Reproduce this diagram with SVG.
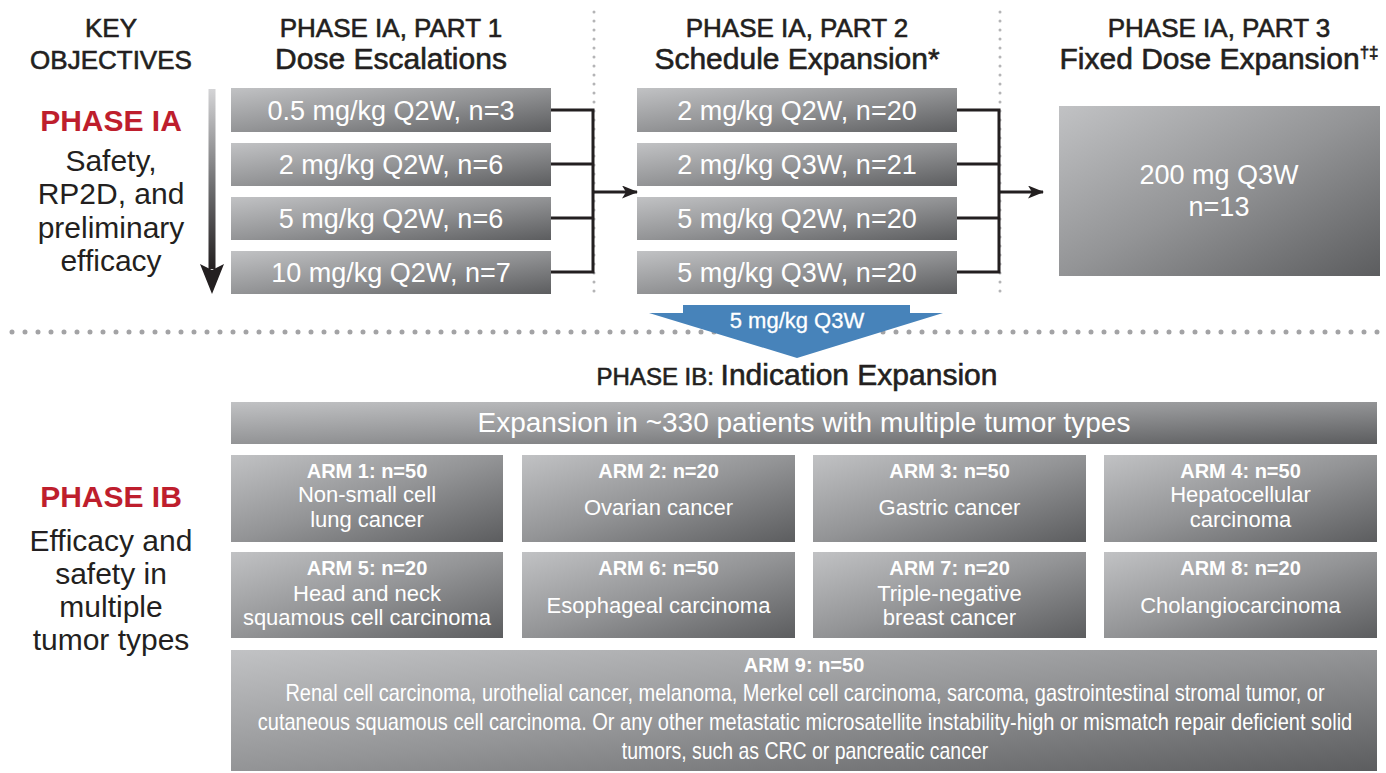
<svg xmlns="http://www.w3.org/2000/svg" width="1386" height="773" viewBox="0 0 1386 773">
<defs>
<linearGradient id="gbox" x1="0" y1="0" x2="1" y2="1">
<stop offset="0" stop-color="#c1c2c4"/>
<stop offset="0.5" stop-color="#939496"/>
<stop offset="1" stop-color="#5c5d5f"/>
</linearGradient>
<linearGradient id="gdown" x1="0" y1="0" x2="0" y2="1">
<stop offset="0" stop-color="#d4d4d6"/>
<stop offset="0.55" stop-color="#6d6d6f"/>
<stop offset="1" stop-color="#231f20"/>
</linearGradient>
<marker id="ah" viewBox="0 0 16 13" refX="15" refY="6.5" markerWidth="16" markerHeight="13" markerUnits="userSpaceOnUse" orient="auto">
<path d="M0,0 L16,6.5 L0,13 L4,6.5 Z" fill="#231f20"/>
</marker>
<style>
text{font-family:"Liberation Sans",Arial,sans-serif;}
.hd1{font-size:26px;fill:#231f20;text-anchor:middle;stroke:#231f20;stroke-width:0.6px;}
.hd2{font-size:30px;fill:#231f20;text-anchor:middle;stroke:#231f20;stroke-width:0.6px;}
.red{font-size:30px;font-weight:bold;fill:#be1e2d;text-anchor:middle;}
.side{font-size:30px;fill:#231f20;text-anchor:middle;}
.box{fill:url(#gbox);}
.bt{font-size:27px;fill:#ffffff;text-anchor:middle;}
.arm{font-size:20px;font-weight:bold;fill:#ffffff;text-anchor:middle;}
.ad{font-size:22px;fill:#ffffff;text-anchor:middle;}
.cond{font-size:24px;fill:#ffffff;text-anchor:middle;}
.conn{fill:none;stroke:#231f20;stroke-width:3;}
.vdot{fill:none;stroke:#b4b4b6;stroke-width:3;stroke-linecap:round;stroke-dasharray:0 9;}
.hdot{fill:none;stroke:#a3a3a5;stroke-width:5;stroke-linecap:round;stroke-dasharray:0 13;}
</style>
</defs>
<rect width="1386" height="773" fill="#ffffff"/>

<g id="separators">
<line class="vdot" x1="594" y1="12" x2="594" y2="298"/>
<line class="vdot" x1="1000" y1="12" x2="1000" y2="298"/>
<line class="hdot" x1="12" y1="332" x2="1380" y2="332"/>
</g>

<g id="headers">
<text class="hd1" x="111" y="37">KEY</text>
<text class="hd1" x="111" y="69">OBJECTIVES</text>
<text class="hd1" x="391" y="37">PHASE IA, PART 1</text>
<text class="hd2" x="391" y="69">Dose Escalations</text>
<text class="hd1" x="797" y="37">PHASE IA, PART 2</text>
<text class="hd2" x="797" y="69">Schedule Expansion*</text>
<text class="hd1" x="1219" y="37">PHASE IA, PART 3</text>
<text class="hd2" x="1219" y="69">Fixed Dose Expansion<tspan font-size="17" dy="-11">†‡</tspan></text>
</g>

<g id="phase-ia-objectives">
<text class="red" x="111" y="131">PHASE IA</text>
<text class="side" x="111" y="171">Safety,</text>
<text class="side" x="111" y="204">RP2D, and</text>
<text class="side" x="111" y="238">preliminary</text>
<text class="side" x="111" y="271">efficacy</text>
<rect x="208.5" y="89" width="7" height="180" fill="url(#gdown)"/>
<path d="M200,264 L212,270 L224,264 L212,294 Z" fill="#231f20"/>
</g>

<g id="part1-0-5">
<rect class="box" x="231" y="88" width="320" height="44"/>
<text class="bt" x="391" y="120">0.5 mg/kg Q2W, n=3</text>
</g>
<g id="part1-2">
<rect class="box" x="231" y="143" width="320" height="43"/>
<text class="bt" x="391" y="174">2 mg/kg Q2W, n=6</text>
</g>
<g id="part1-5">
<rect class="box" x="231" y="197" width="320" height="43"/>
<text class="bt" x="391" y="228">5 mg/kg Q2W, n=6</text>
</g>
<g id="part1-10">
<rect class="box" x="231" y="251" width="320" height="43"/>
<text class="bt" x="391" y="282">10 mg/kg Q2W, n=7</text>
</g>

<g id="part2-2-q2w">
<rect class="box" x="637" y="88" width="320" height="44"/>
<text class="bt" x="797" y="120">2 mg/kg Q2W, n=20</text>
</g>
<g id="part2-2-q3w">
<rect class="box" x="637" y="143" width="320" height="43"/>
<text class="bt" x="797" y="174">2 mg/kg Q3W, n=21</text>
</g>
<g id="part2-5-q2w">
<rect class="box" x="637" y="197" width="320" height="43"/>
<text class="bt" x="797" y="228">5 mg/kg Q2W, n=20</text>
</g>
<g id="part2-5-q3w">
<rect class="box" x="637" y="251" width="320" height="43"/>
<text class="bt" x="797" y="282">5 mg/kg Q3W, n=20</text>
</g>

<g id="part3">
<rect class="box" x="1059" y="106" width="321" height="170"/>
<text class="bt" x="1219" y="184" font-size="26">200 mg Q3W</text>
<text class="bt" x="1219" y="216" font-size="26">n=13</text>
</g>

<g id="connectors">
<path class="conn" d="M551,110 H593 M551,164 H593 M551,218 H593 M551,272 H593 M593,108.5 V273.5"/>
<line class="conn" x1="593" y1="192" x2="637" y2="192" marker-end="url(#ah)"/>
<path class="conn" d="M957,110 H999 M957,164 H999 M957,218 H999 M957,272 H999 M999,108.5 V273.5"/>
<line class="conn" x1="999" y1="192" x2="1043" y2="192" marker-end="url(#ah)"/>
</g>

<g id="rp2d-arrow">
<polygon points="683,305 910,305 910,313 943,313 797,358 649,313 683,313" fill="#4783ba"/>
<text x="797" y="328" font-size="22" fill="#ffffff" text-anchor="middle" stroke="#ffffff" stroke-width="0.3">5 mg/kg Q3W</text>
</g>

<g id="phase-ib-title">
<text x="797" y="385" fill="#231f20" text-anchor="middle" stroke="#231f20" stroke-width="0.6"><tspan font-size="24">PHASE IB: </tspan><tspan font-size="30">Indication Expansion</tspan></text>
</g>

<g id="phase-ib-objectives">
<text class="red" x="111" y="507">PHASE IB</text>
<text class="side" x="111" y="551">Efficacy and</text>
<text class="side" x="111" y="584">safety in</text>
<text class="side" x="111" y="617">multiple</text>
<text class="side" x="111" y="650">tumor types</text>
</g>

<g id="expansion-bar">
<rect class="box" x="231" y="402" width="1146" height="42"/>
<text x="804" y="432" font-size="28" fill="#ffffff" text-anchor="middle">Expansion in ~330 patients with multiple tumor types</text>
</g>

<g id="arm1">
<rect class="box" x="231" y="455" width="272" height="87"/>
<text class="arm" x="367" y="478">ARM 1: n=50</text>
<text class="ad" x="367" y="502">Non-small cell</text>
<text class="ad" x="367" y="527">lung cancer</text>
</g>
<g id="arm2">
<rect class="box" x="522" y="455" width="273" height="87"/>
<text class="arm" x="658.5" y="478">ARM 2: n=20</text>
<text class="ad" x="658.5" y="515">Ovarian cancer</text>
</g>
<g id="arm3">
<rect class="box" x="813" y="455" width="273" height="87"/>
<text class="arm" x="949.5" y="478">ARM 3: n=50</text>
<text class="ad" x="949.5" y="515">Gastric cancer</text>
</g>
<g id="arm4">
<rect class="box" x="1104" y="455" width="273" height="87"/>
<text class="arm" x="1240.5" y="478">ARM 4: n=50</text>
<text class="ad" x="1240.5" y="502">Hepatocellular</text>
<text class="ad" x="1240.5" y="527">carcinoma</text>
</g>
<g id="arm5">
<rect class="box" x="231" y="552" width="272" height="86"/>
<text class="arm" x="367" y="575">ARM 5: n=20</text>
<text class="ad" x="367" y="601">Head and neck</text>
<text class="ad" x="367" y="625">squamous cell carcinoma</text>
</g>
<g id="arm6">
<rect class="box" x="522" y="552" width="273" height="86"/>
<text class="arm" x="658.5" y="575">ARM 6: n=50</text>
<text class="ad" x="658.5" y="613">Esophageal carcinoma</text>
</g>
<g id="arm7">
<rect class="box" x="813" y="552" width="273" height="86"/>
<text class="arm" x="949.5" y="575">ARM 7: n=20</text>
<text class="ad" x="949.5" y="601">Triple-negative</text>
<text class="ad" x="949.5" y="625">breast cancer</text>
</g>
<g id="arm8">
<rect class="box" x="1104" y="552" width="273" height="86"/>
<text class="arm" x="1240.5" y="575">ARM 8: n=20</text>
<text class="ad" x="1240.5" y="613">Cholangiocarcinoma</text>
</g>
<g id="arm9">
<rect class="box" x="231" y="650" width="1146" height="121"/>
<text class="arm" x="804" y="672" font-size="18">ARM 9: n=50</text>
<text class="cond" transform="translate(805,701) scale(0.8,1)" x="0" y="0" textLength="1299" lengthAdjust="spacingAndGlyphs">Renal cell carcinoma, urothelial cancer, melanoma, Merkel cell carcinoma, sarcoma, gastrointestinal stromal tumor, or</text>
<text class="cond" transform="translate(805,730) scale(0.8,1)" x="0" y="0" textLength="1368" lengthAdjust="spacingAndGlyphs">cutaneous squamous cell carcinoma. Or any other metastatic microsatellite instability-high or mismatch repair deficient solid</text>
<text class="cond" transform="translate(805,759) scale(0.8,1)" x="0" y="0" textLength="458" lengthAdjust="spacingAndGlyphs">tumors, such as CRC or pancreatic cancer</text>
</g>
</svg>
